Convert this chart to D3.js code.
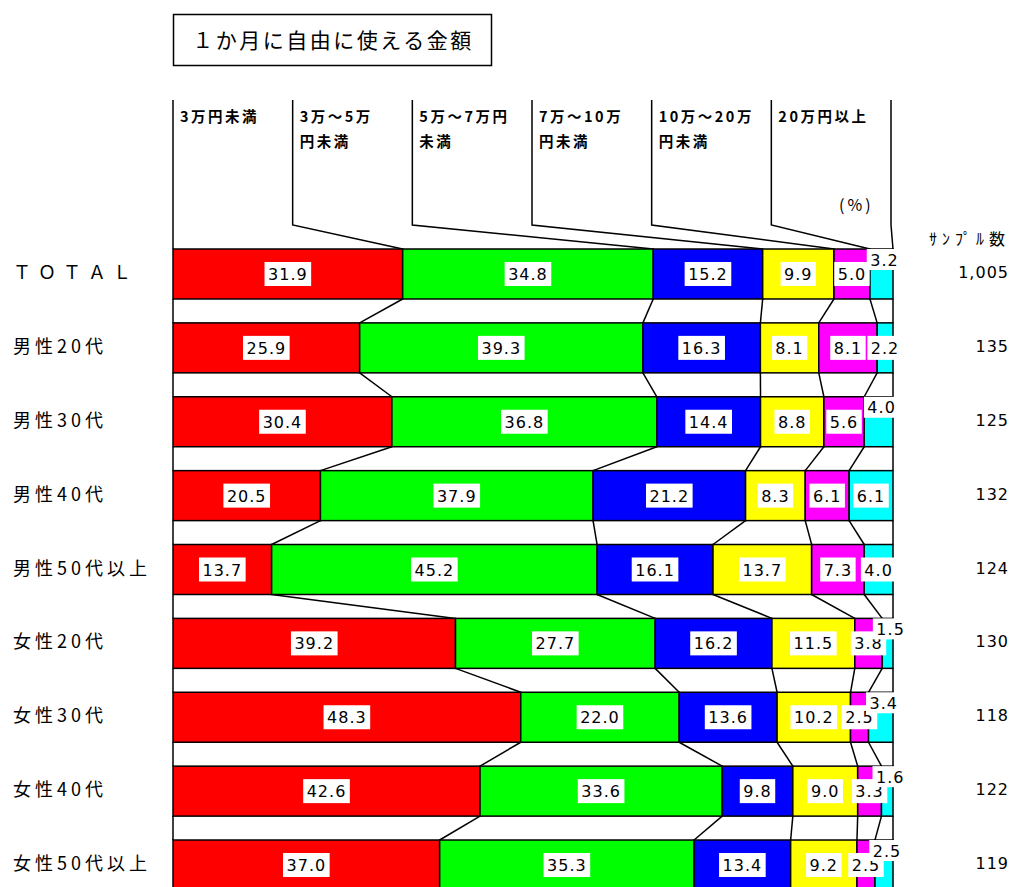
<!DOCTYPE html>
<html>
<head>
<meta charset="utf-8">
<script src="https://cdn.jsdelivr.net/npm/d3@7"></script>
<style>
  body { margin: 0; background: #fff; }
  svg { display: block; }
</style>
</head>
<body>
<svg id="chart" width="1014" height="887"></svg>
<script>
// ---- data ----------------------------------------------------------
const title = "１か月に自由に使える金額";
const categories = ["ＴＯＴＡＬ", "男性20代", "男性30代", "男性40代", "男性50代以上",
                    "女性20代", "女性30代", "女性40代", "女性50代以上"];
const bandLabels = [["3万円未満"], ["3万～5万", "円未満"], ["5万～7万円", "未満"],
                    ["7万～10万", "円未満"], ["10万～20万", "円未満"], ["20万円以上"]];
const under3    = [31.9, 25.9, 30.4, 20.5, 13.7, 39.2, 48.3, 42.6, 37.0];
const from3to5  = [34.8, 39.3, 36.8, 37.9, 45.2, 27.7, 22.0, 33.6, 35.3];
const from5to7  = [15.2, 16.3, 14.4, 21.2, 16.1, 16.2, 13.6,  9.8, 13.4];
const from7to10 = [ 9.9,  8.1,  8.8,  8.3, 13.7, 11.5, 10.2,  9.0,  9.2];
const from10to20= [ 5.0,  8.1,  5.6,  6.1,  7.3,  3.8,  2.5,  3.3,  2.5];
const over20    = [ 3.2,  2.2,  4.0,  6.1,  4.0,  1.5,  3.4,  1.6,  2.5];
const sampleSizes = ["1,005", "135", "125", "132", "124", "130", "118", "122", "119"];
const sampleHeader = "ｻﾝﾌﾟﾙ数";
const unitLabel = "(%)";

// ---- setup ---------------------------------------------------------
const keys = ["under3", "from3to5", "from5to7", "from7to10", "from10to20", "over20"];
const seriesValues = [under3, from3to5, from5to7, from7to10, from10to20, over20];
const colors = ["#ff0000", "#00ff00", "#0000ff", "#ffff00", "#ff00ff", "#00ffff"];

const rows = categories.map((c, i) => {
  const r = { category: c };
  keys.forEach((k, j) => r[k] = seriesValues[j][i]);
  return r;
});
const stacked = d3.stack().keys(keys).offset(d3.stackOffsetExpand)(rows);

const jpFont = "'Noto Sans CJK JP', 'Noto Sans', sans-serif";
const numFont = "'DejaVu Sans', sans-serif";

const svg = d3.select("#chart");
const x = d3.scaleLinear().domain([0, 1]).range([173, 893]);
const y = d3.scaleBand().domain(categories).range([249, 890]).paddingInner(0.3234).paddingOuter(0);
const bw = y.bandwidth();
// legend column rules across the header
const colX = d3.scaleLinear().domain([0, keys.length]).range([173, 891]);

// boundaries of every row, left edge to right edge
const bounds = categories.map((c, i) => [0, ...stacked.map(s => s[i][1])]);

const line = svg.append("g").attr("fill", "none").attr("stroke", "#000").attr("stroke-width", 1.5);

// ---- title ---------------------------------------------------------
svg.append("rect").attr("x", 173.5).attr("y", 14.5).attr("width", 318).attr("height", 51)
  .attr("fill", "#fff").attr("stroke", "#000").attr("stroke-width", 1.5);
svg.append("text").attr("x", 333).attr("y", 48).attr("text-anchor", "middle")
  .attr("font-family", jpFont).attr("font-size", 21).attr("letter-spacing", 2.5)
  .text(title);

// ---- header: column rules and their leaders to the first bar ------
const headTop = 100, headBottom = 225;
d3.range(keys.length + 1).forEach(k => {
  const cx = colX(k);
  const bx = x(bounds[0][k]);
  line.append("path").attr("d", d3.line()([[cx, headTop], [cx, headBottom], [bx, y(categories[0])]]));
});
bandLabels.forEach((lines, k) => {
  const t = svg.append("text").attr("font-family", jpFont).attr("font-size", 14.5)
    .attr("font-weight", "bold").attr("letter-spacing", 2.5);
  lines.forEach((s, li) => t.append("tspan").attr("x", colX(k) + 7).attr("y", 122 + li * 25).text(s));
});
svg.append("text").attr("x", 839).attr("y", 211).attr("font-family", jpFont)
  .attr("font-size", 16).attr("letter-spacing", 3).text(unitLabel);
svg.append("text").attr("x", 929).attr("y", 245).attr("font-family", jpFont)
  .attr("font-size", 16).attr("letter-spacing", 5).text(sampleHeader);

// ---- connectors between consecutive bars ---------------------------
for (let i = 0; i < categories.length - 1; i++) {
  const y0 = y(categories[i]) + bw, y1 = y(categories[i + 1]);
  bounds[i].forEach((b, k) => {
    line.append("line").attr("x1", x(b)).attr("y1", y0)
      .attr("x2", x(bounds[i + 1][k])).attr("y2", y1);
  });
}

// ---- bars ----------------------------------------------------------
svg.append("g").selectAll("g").data(stacked).join("g")
  .attr("fill", (d, j) => colors[j])
  .selectAll("rect").data(d => d).join("rect")
  .attr("x", d => x(d[0])).attr("width", d => x(d[1]) - x(d[0]))
  .attr("y", d => y(d.data.category)).attr("height", bw)
  .attr("stroke", "#000").attr("stroke-width", 1.5);

// ---- value labels --------------------------------------------------
// Two narrow end segments cannot hold two labels side by side; in that
// case the last label sits on the bar's top edge.
const sideBySideRoom = 0.10;
const labels = svg.append("g");
stacked.forEach((s, j) => {
  s.forEach((d, i) => {
    const v = seriesValues[j][i];
    const top = y(categories[i]);
    const x0 = x(d[0]), x1 = x(d[1]);
    let cx = (x0 + x1) / 2, cy = top + bw / 2, h = 24;
    const last = j === keys.length - 1;
    if (last && (d[1] - stacked[j - 1][i][0]) < sideBySideRoom) {
      cx += 3; h = 21; cy = top + h / 2;
    }
    const g = labels.append("g");
    const box = g.append("rect").attr("fill", "#fff");
    const t = g.append("text").attr("x", cx).attr("y", cy + 6).attr("text-anchor", "middle")
      .attr("font-family", numFont).attr("font-size", 16).attr("letter-spacing", 1)
      .text(v.toFixed(1));
    const w = t.node().getComputedTextLength() + 7;
    box.attr("x", cx - w / 2).attr("y", cy - h / 2).attr("width", w).attr("height", h);
  });
});

// ---- row labels and sample sizes -----------------------------------
categories.forEach((c, i) => {
  const cy = y(c) + bw / 2;
  svg.append("text").attr("x", 13).attr("y", cy + 5)
    .attr("font-family", jpFont).attr("font-size", 18)
    .attr("letter-spacing", i === 0 ? 7 : 4).text(c);
  svg.append("text").attr("x", 1009).attr("y", cy + 4).attr("text-anchor", "end")
    .attr("font-family", numFont).attr("font-size", 16).attr("letter-spacing", 1)
    .text(sampleSizes[i]);
});
</script>
</body>
</html>
